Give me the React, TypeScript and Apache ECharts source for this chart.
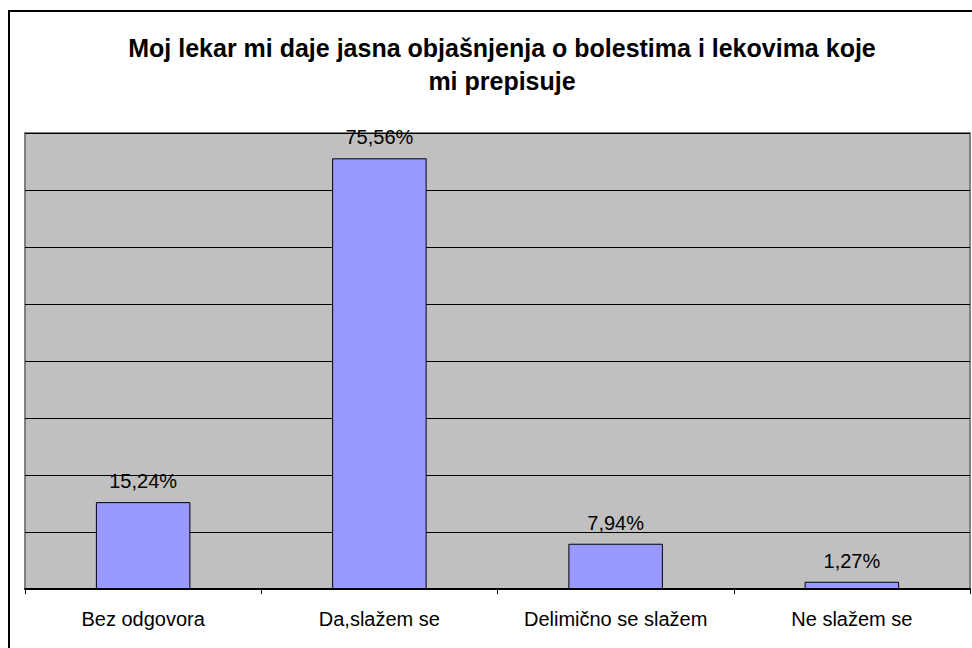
import React, { useEffect, useRef } from "react";
import * as echarts from "echarts";

const titleText = "Moj lekar mi daje jasna objašnjenja o bolestima i lekovima koje\nmi prepisuje";
const categories = ["Bez odgovora", "Da,slažem se", "Delimično se slažem", "Ne slažem se"];
const values = [15.24, 75.56, 7.94, 1.27];

const FONT = "'Liberation Sans', Arial, sans-serif";

export default function App() {
  const ref = useRef<HTMLDivElement>(null);
  useEffect(() => {
    if (!ref.current) return;
    const chart = echarts.init(ref.current, null, { renderer: "svg" });
    chart.setOption({
      animation: false,
      backgroundColor: "#ffffff",
      title: {
        text: titleText,
        left: 497,
        textAlign: "center",
        top: 26,
        textStyle: {
          fontFamily: FONT,
          fontSize: 25,
          fontWeight: "bold",
          color: "#000",
          lineHeight: 33,
        },
      },
      graphic: [
        {
          type: "rect",
          shape: { x: 9, y: 11, width: 1000, height: 700 },
          style: { fill: "none", stroke: "#000", lineWidth: 2 },
          z: 100,
        },
      ],
      grid: {
        left: 25,
        right: 2,
        top: 133,
        bottom: 59,
        show: true,
        backgroundColor: "#C0C0C0",
        borderColor: "#808080",
        borderWidth: 2,
      },
      xAxis: {
        type: "category",
        data: categories,
        axisLine: { show: true, lineStyle: { color: "#000", width: 2 } },
        axisTick: { show: true, length: 5, lineStyle: { color: "#000", width: 1 } },
        axisLabel: {
          fontFamily: FONT,
          fontSize: 20,
          color: "#000",
          margin: 20,
          interval: 0,
        },
        splitLine: { show: false },
      },
      yAxis: {
        type: "value",
        min: 0,
        max: 80,
        interval: 10,
        axisLine: { show: false },
        axisTick: { show: false },
        axisLabel: { show: false },
        splitLine: { show: true, lineStyle: { color: "#000", width: 1 } },
      },
      series: [
        {
          type: "bar",
          data: values,
          barWidth: "40%",
          itemStyle: { color: "#9999FF", borderColor: "#000", borderWidth: 1 },
          label: {
            show: true,
            position: "top",
            distance: 11,
            fontFamily: FONT,
            fontSize: 20,
            color: "#000",
            formatter: (p: any) => p.value.toFixed(2).replace(".", ",") + "%",
          },
        },
      ],
    });
    return () => chart.dispose();
  }, []);
  return (
    <div
      ref={ref}
      style={{ position: "fixed", left: 0, top: 0, width: 972, height: 648 }}
    />
  );
}
